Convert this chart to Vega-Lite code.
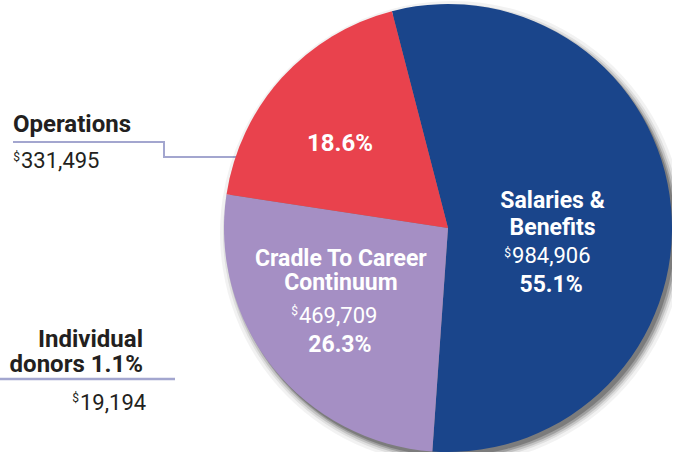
{
  "$schema": "https://vega.github.io/schema/vega-lite/v6.json",
  "width": 448,
  "height": 448,
  "autosize": {"type": "none"},
  "padding": {"left": 224, "top": 4, "right": 0, "bottom": 0},
  "background": "white",
  "config": {"view": {"stroke": null}, "text": {"font": "Roboto, sans-serif"}},
  "data": {"values": [
    {"cat": "Salaries & Benefits", "order": 1, "value": 984906, "name": "Salaries &\nBenefits", "amount": "984,906", "pct": "55.1%"},
    {"cat": "Cradle To Career Continuum", "order": 2, "value": 469709, "name": "Cradle To Career\nContinuum", "amount": "469,709", "pct": "26.3%"},
    {"cat": "Operations", "order": 3, "value": 331495, "name": "Operations", "amount": "331,495", "pct": "18.6%"}
  ]},
  "encoding": {
    "theta": {"field": "value", "type": "quantitative", "stack": true, "scale": {"range": [-0.253, 6.030], "zero": true, "nice": false}},
    "order": {"field": "order", "type": "quantitative", "sort": "ascending"}
  },
  "layer": [
    {"data": {"values": [{}]}, "mark": {"type": "rule", "stroke": "#a3a6cf", "strokeWidth": 2},
     "encoding": {"theta": null, "order": null, "x": {"value": -211}, "x2": {"value": -60}, "y": {"value": 138}}},
    {"data": {"values": [{}]}, "mark": {"type": "rule", "stroke": "#a3a6cf", "strokeWidth": 2},
     "encoding": {"theta": null, "order": null, "x": {"value": -60}, "y": {"value": 137}, "y2": {"value": 154}}},
    {"data": {"values": [{}]}, "mark": {"type": "rule", "stroke": "#a3a6cf", "strokeWidth": 2},
     "encoding": {"theta": null, "order": null, "x": {"value": -60}, "x2": {"value": 20}, "y": {"value": 153}}},
    {"data": {"values": [{}]}, "mark": {"type": "rule", "stroke": "#a3a6cf", "strokeWidth": 2.5},
     "encoding": {"theta": null, "order": null, "x": {"value": -224}, "x2": {"value": -49}, "y": {"value": 375}}},
    {"mark": {"type": "arc", "radius": 232, "fill": "#000000", "opacity": 0.05},
     "encoding": {"x": {"value": 228}, "y": {"value": 229}}},
    {"mark": {"type": "arc", "radius": 229, "fill": "#000000", "opacity": 0.08},
     "encoding": {"x": {"value": 228}, "y": {"value": 229}}},
    {"mark": {"type": "arc", "radius": 227, "fill": "#000000", "opacity": 0.12},
     "encoding": {"x": {"value": 228}, "y": {"value": 229}}},
    {"mark": {"type": "arc", "radius": 225, "fill": "#000000", "opacity": 0.18},
     "encoding": {"x": {"value": 228}, "y": {"value": 229}}},
    {"mark": {"type": "arc", "radius": 224, "fill": "#000000", "opacity": 0.22},
     "encoding": {"x": {"value": 227}, "y": {"value": 228}}},
    {"mark": {"type": "arc", "radius": 224, "stroke": null},
     "encoding": {"color": {"field": "cat", "type": "nominal", "legend": null,
       "scale": {"domain": ["Salaries & Benefits", "Cradle To Career Continuum", "Operations"], "range": ["#1a458b", "#a58fc4", "#e9424d"]}}}},
    {"mark": {"type": "text", "radius": 105, "align": "center", "baseline": "alphabetic", "dx": 0, "dy": -10.3, "fontSize": 23, "fontWeight": "bold", "fill": "white", "lineBreak": "\n", "lineHeight": 27},
     "encoding": {"text": {"condition": {"test": "datum.order == 1", "field": "name"}, "value": ""}}},
    {"mark": {"type": "text", "radius": 105, "align": "left", "baseline": "alphabetic", "dx": -40.5, "dy": 44.7, "fontSize": 22, "fill": "white"},
     "encoding": {"text": {"condition": {"test": "datum.order == 1", "field": "amount"}, "value": ""}}},
    {"mark": {"type": "text", "radius": 105, "align": "right", "baseline": "alphabetic", "dx": -41.5, "dy": 38.7, "fontSize": 12, "fill": "white"},
     "encoding": {"text": {"condition": {"test": "datum.order == 1", "value": "$"}, "value": ""}}},
    {"mark": {"type": "text", "radius": 105, "align": "center", "baseline": "alphabetic", "dx": -1.5, "dy": 73.7, "fontSize": 23, "fontWeight": "bold", "fill": "white"},
     "encoding": {"text": {"condition": {"test": "datum.order == 1", "field": "pct"}, "value": ""}}},
    {"mark": {"type": "text", "radius": 130, "align": "center", "baseline": "alphabetic", "dx": -5.6, "dy": -43.4, "fontSize": 23, "fontWeight": "bold", "fill": "white", "lineBreak": "\n", "lineHeight": 24},
     "encoding": {"text": {"condition": {"test": "datum.order == 2", "field": "name"}, "value": ""}}},
    {"mark": {"type": "text", "radius": 130, "align": "left", "baseline": "alphabetic", "dx": -47.6, "dy": 13.6, "fontSize": 22, "fill": "white"},
     "encoding": {"text": {"condition": {"test": "datum.order == 2", "field": "amount"}, "value": ""}}},
    {"mark": {"type": "text", "radius": 130, "align": "right", "baseline": "alphabetic", "dx": -48.6, "dy": 5.6, "fontSize": 12, "fill": "white"},
     "encoding": {"text": {"condition": {"test": "datum.order == 2", "value": "$"}, "value": ""}}},
    {"mark": {"type": "text", "radius": 130, "align": "center", "baseline": "alphabetic", "dx": -6.6, "dy": 42.6, "fontSize": 23, "fontWeight": "bold", "fill": "white"},
     "encoding": {"text": {"condition": {"test": "datum.order == 2", "field": "pct"}, "value": ""}}},
    {"mark": {"type": "text", "radius": 138, "align": "center", "baseline": "alphabetic", "dx": -5.6, "dy": 15.5, "fontSize": 24, "fontWeight": "bold", "fill": "white"},
     "encoding": {"text": {"condition": {"test": "datum.order == 3", "field": "pct"}, "value": ""}}},
    {"mark": {"type": "text", "radius": 224, "align": "left", "baseline": "alphabetic", "dx": -268.8, "dy": 54.1, "fontSize": 24, "fontWeight": "bold", "fill": "#231f20"},
     "encoding": {"text": {"condition": {"test": "datum.order == 3", "field": "name"}, "value": ""}}},
    {"mark": {"type": "text", "radius": 224, "align": "left", "baseline": "alphabetic", "dx": -260.8, "dy": 90.1, "fontSize": 22, "fill": "#231f20"},
     "encoding": {"text": {"condition": {"test": "datum.order == 3", "field": "amount"}, "value": ""}}},
    {"mark": {"type": "text", "radius": 224, "align": "right", "baseline": "alphabetic", "dx": -261.8, "dy": 83, "fontSize": 12, "fill": "#231f20"},
     "encoding": {"text": {"condition": {"test": "datum.order == 3", "value": "$"}, "value": ""}}},
    {"data": {"values": [{"name": "Individual\ndonors 1.1%", "amount": "19,194"}]},
     "mark": {"type": "text", "align": "right", "baseline": "alphabetic", "fontSize": 24, "fontWeight": "bold", "fill": "#231f20", "lineBreak": "\n", "lineHeight": 25},
     "encoding": {"theta": null, "order": null, "x": {"value": -81}, "y": {"value": 343}, "text": {"field": "name"}}},
    {"data": {"values": [{"name": "Individual\ndonors 1.1%", "amount": "19,194"}]},
     "mark": {"type": "text", "align": "left", "baseline": "alphabetic", "fontSize": 22, "fill": "#231f20"},
     "encoding": {"theta": null, "order": null, "x": {"value": -144}, "y": {"value": 406}, "text": {"field": "amount"}}},
    {"data": {"values": [{"name": "Individual\ndonors 1.1%", "amount": "19,194"}]},
     "mark": {"type": "text", "align": "right", "baseline": "alphabetic", "fontSize": 12, "fill": "#231f20", "text": "$"},
     "encoding": {"theta": null, "order": null, "x": {"value": -145}, "y": {"value": 398}}}
  ]
}
